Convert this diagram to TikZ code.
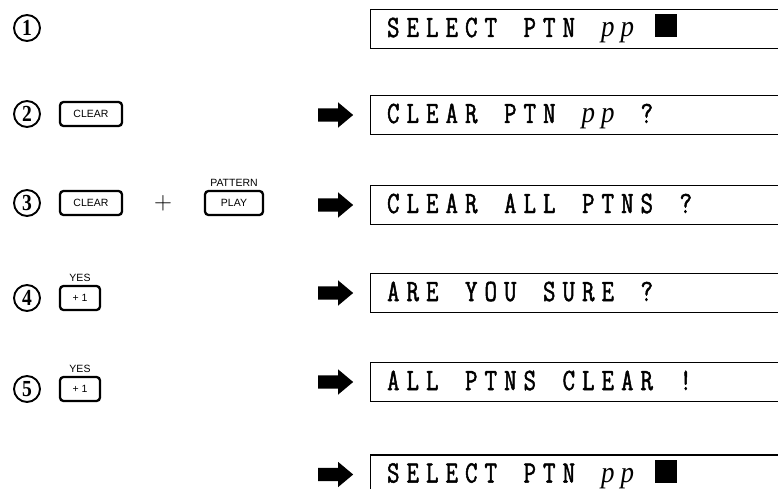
\documentclass[tikz,border=0pt]{standalone}
\usepackage{fontspec}
\usetikzlibrary{positioning,shapes.arrows}
\newfontfamily\lcdfont{Latin Modern Mono}[FakeStretch=0.78,FakeBold=1.6]
\newfontfamily\ppfont{Liberation Serif}[FakeStretch=0.9]
\newfontfamily\keyfont{Liberation Sans}
\newfontfamily\numfont{Liberation Serif}[FakeStretch=0.85]

% one character per display cell: p is set italic, * is the block cursor
\ExplSyntaxOn
\NewDocumentCommand \lcd { m }
  {
    \str_map_inline:nn {#1}
      {
        \makebox[19.5pt][c]
          {
            \str_case:nnF {##1}
              {
                {p} {{\ppfont\itshape\fontsize{30}{30}\selectfont p}}
                {*} {\rule[-0.5pt]{22pt}{23pt}}
              }
              {##1}
          }
      }
  }
\ExplSyntaxOff

\begin{document}
\begin{tikzpicture}[x=1pt, y=-1pt, line width=1.1pt,
            disp/.style={
            draw,
            rectangle,
            anchor=west,
            minimum height=39pt,
            text width=402pt,
            align=left,
            inner xsep=13pt,
            text height=22pt,
            text depth=6pt,
            font=\lcdfont\fontsize{31}{31}\selectfont},
            bigarrow/.style={
            single arrow,
            fill=black,
            inner xsep=0pt,
            inner ysep=6pt,
            minimum height=35pt,
            single arrow head extend=6pt,
            single arrow tip angle=80},
            stepnum/.style={
            circle,
            draw,
            line width=1.9pt,
            minimum size=26pt,
            inner sep=0pt,
            font=\numfont\bfseries\fontsize{23}{23}\selectfont},
            keybox/.style={
            draw,
            rectangle,
            rounded corners=3.5pt,
            line width=2.3pt,
            minimum height=24pt,
            inner sep=0pt,
            font=\keyfont\fontsize{10.5}{10.5}\selectfont},
            keylabel/.style={
            inner sep=0pt,
            font=\keyfont\fontsize{10.5}{10.5}\selectfont}]

    \useasboundingbox (0,0) rectangle (778,489);

    % displays on the right
    \foreach \i/\y/\txt in {1/29/SELECT PTN pp *,
                            2/115/CLEAR PTN pp ?,
                            3/205/CLEAR ALL PTNS ?,
                            4/293/ARE YOU SURE ?,
                            5/382/ALL PTNS CLEAR !,
                            6/474.5/SELECT PTN pp *}
    {
        \node[disp] (disp\i) at (370,\y) {\expandafter\lcd\expandafter{\txt}};
    }
    \foreach \i in {2,...,6}
    {
        \node[bigarrow, left=16pt of disp\i.west] (arr\i) {};
    }

    % steps on the left
    \foreach \i/\y in {1/28, 2/114, 3/203, 4/298, 5/389}
    {
        \node[stepnum] (num\i) at (27,\y) {\i};
    }

    \node[keybox, minimum width=62pt] (clearA) at (91,114) {CLEAR};
    \node[keybox, minimum width=62pt] (clearB) at (91,203) {CLEAR};
    \node[font=\fontsize{28}{28}\selectfont, inner sep=0pt] (plus) at (163,203) {$+$};
    \node[keybox, minimum width=58pt] (play) at (234,203) {PLAY};
    \node[keylabel, above=3pt of play] (pattern) {PATTERN};
    \node[keybox, minimum width=40pt] (yesA) at (80,298) {+ 1};
    \node[keylabel, above=3pt of yesA] (yesAl) {YES};
    \node[keybox, minimum width=40pt] (yesB) at (80,389) {+ 1};
    \node[keylabel, above=3pt of yesB] (yesBl) {YES};
\end{tikzpicture}
\end{document}
